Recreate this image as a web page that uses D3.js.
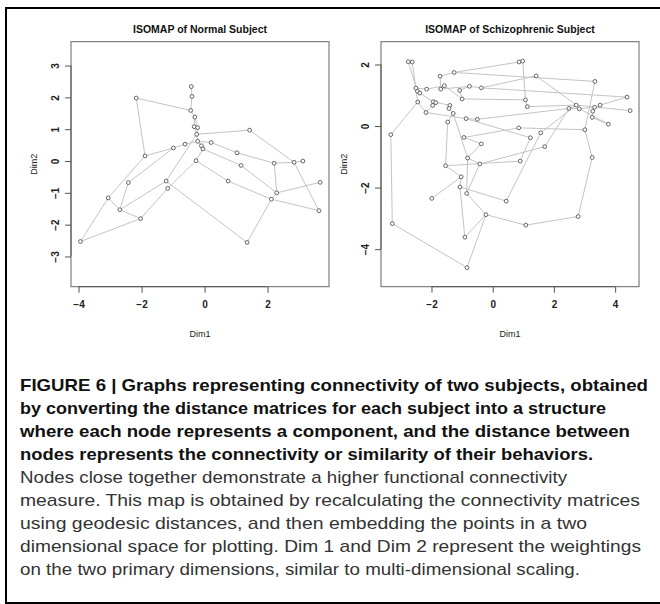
<!DOCTYPE html>
<html>
<head>
<meta charset="utf-8">
<script src="https://cdn.jsdelivr.net/npm/d3@7"></script>
<style>
  body { margin: 0; background: #fff; }
  svg { display: block; }
</style>
</head>
<body>
<div id="chart"></div>
<script>
// node coordinates (Dim1, Dim2)
const normalX = [-2.17,-1.89,-0.99,-0.62,-0.42,-0.40,-0.44,-0.31,-0.33,-0.22,-0.25,1.43,-0.22,0.21,-0.10,-0.05,1.03,-0.27,1.16,2.21,2.84,3.12,0.75,3.67,2.29,2.12,3.63,1.35,-2.42,-1.22,-1.17,-3.06,-2.69,-2.03,-3.94];
const normalY = [1.98,0.16,0.41,0.53,2.34,2.03,1.59,1.38,1.08,1.05,0.84,0.97,0.62,0.58,0.48,0.38,0.26,0.01,-0.14,-0.07,-0.04,0.00,-0.63,-0.67,-1.00,-1.20,-1.56,-2.56,-0.68,-0.63,-0.86,-1.16,-1.53,-1.81,-2.53];
const normalEdges = [[1,2],[1,7],[2,3],[3,4],[4,13],[5,6],[6,7],[7,8],[8,9],[8,10],[9,11],[10,11],[11,12],[11,13],[13,14],[13,15],[15,16],[14,17],[17,20],[12,21],[20,21],[21,22],[20,25],[25,24],[25,26],[26,27],[21,27],[18,23],[23,26],[16,19],[19,25],[16,18],[18,31],[30,28],[28,26],[30,33],[29,33],[29,3],[32,2],[32,33],[32,35],[35,34],[34,31],[33,34],[30,11]];

const schizoX = [-2.76,-2.63,-1.72,-1.26,-2.51,-2.46,-2.38,-2.16,-1.58,-1.70,-0.76,-0.37,-1.08,-1.00,-2.45,-1.94,-1.86,-1.96,-1.40,-1.43,-1.29,-2.18,-1.47,-0.87,-0.50,-3.33,-0.94,-0.37,-0.82,-0.42,-1.54,0.86,0.98,1.42,3.34,1.07,1.13,2.73,2.49,2.83,3.33,3.51,4.39,4.49,3.27,3.25,3.78,3.01,0.85,1.57,1.23,1.70,3.25,0.90,-1.03,-1.07,-0.85,-1.99,-0.22,-3.28,-0.91,-0.84,0.44,2.79,1.08];
const schizoY = [2.09,2.08,1.62,1.74,1.23,1.13,1.07,1.20,1.31,1.20,1.29,1.24,1.16,0.88,0.78,0.79,0.76,0.67,0.67,0.57,0.41,0.44,0.13,0.24,0.22,-0.28,-0.37,-0.58,-1.04,-1.23,-1.29,2.08,2.11,1.63,1.45,0.85,0.63,0.68,0.57,0.56,0.61,0.68,0.94,0.50,0.48,0.28,0.06,-0.12,-0.06,-0.22,-0.38,-0.67,-1.02,-1.14,-1.65,-1.98,-2.19,-2.35,-2.88,-3.17,-3.61,-4.60,-2.44,-2.94,-3.22];
const schizoEdges = [[1,2],[1,6],[2,15],[5,6],[6,7],[5,8],[8,9],[9,10],[3,10],[3,4],[4,32],[4,35],[10,11],[11,12],[12,34],[9,14],[13,14],[13,11],[7,16],[16,17],[17,18],[18,22],[15,22],[16,19],[19,20],[20,21],[21,23],[23,31],[22,24],[24,25],[14,36],[36,37],[37,38],[32,33],[33,36],[34,38],[38,39],[39,40],[40,41],[41,42],[42,43],[38,44],[41,45],[45,46],[46,47],[40,47],[35,48],[48,49],[49,27],[27,28],[28,29],[29,30],[30,52],[52,39],[50,38],[50,63],[51,24],[51,54],[54,31],[15,26],[26,60],[60,62],[62,59],[59,61],[61,56],[56,55],[55,58],[56,63],[59,65],[65,64],[64,53],[53,48],[57,29],[57,59],[31,55],[21,29],[12,43],[30,57],[25,39]];

const normalXTicks = [-4,-2,0,2];
const normalYTicks = [-3,-2,-1,0,1,2,3];
const schizoXTicks = [-2,0,2,4];
const schizoYTicks = [-4,-2,0,2];

const captionBold = [
  "FIGURE 6 | Graphs representing connectivity of two subjects, obtained",
  "by converting the distance matrices for each subject into a structure",
  "where each node represents a component, and the distance between",
  "nodes represents the connectivity or similarity of their behaviors."
];
const captionPlain = [
  "Nodes close together demonstrate a higher functional connectivity",
  "measure. This map is obtained by recalculating the connectivity matrices",
  "using geodesic distances, and then embedding the points in a two",
  "dimensional space for plotting. Dim 1 and Dim 2 represent the weightings",
  "on the two primary dimensions, similar to multi-dimensional scaling."
];
const captionWidths = [628, 586, 610, 573, 547, 620, 567, 621, 560];

const W = 660, H = 604;
const svg = d3.select("#chart").append("svg").attr("width", W).attr("height", H);

// page frame
svg.append("path")
  .attr("d", `M${W+2},8 L6,8 L6,603 L${W+2},603`)
  .attr("fill", "none").attr("stroke", "#000").attr("stroke-width", 2);

function panel(opts) {
  const x = d3.scaleLinear().domain(opts.xDomain).range([opts.left, opts.right]);
  const y = d3.scaleLinear().domain(opts.yDomain).range([opts.bottom, opts.top]);
  const g = svg.append("g");
  const font = "'Liberation Sans', Arial, sans-serif";

  g.append("text")
    .attr("x", (opts.left + opts.right) / 2).attr("y", 33)
    .attr("text-anchor", "middle")
    .attr("font-family", font).attr("font-weight", "bold").attr("font-size", 10.5)
    .attr("fill", "#111")
    .text(opts.title);

  const nodes = opts.xs.map((d, i) => ({x: d, y: opts.ys[i]}));

  g.selectAll(".edge").data(opts.edges).enter().append("line")
    .attr("class", "edge")
    .attr("x1", d => x(nodes[d[0]-1].x)).attr("y1", d => y(nodes[d[0]-1].y))
    .attr("x2", d => x(nodes[d[1]-1].x)).attr("y2", d => y(nodes[d[1]-1].y))
    .attr("stroke", "#c4c4c4").attr("stroke-width", 1);

  g.selectAll(".node").data(nodes).enter().append("circle")
    .attr("class", "node")
    .attr("cx", d => x(d.x)).attr("cy", d => y(d.y)).attr("r", 1.9)
    .attr("fill", "#fff").attr("stroke", "#555").attr("stroke-width", 0.9);

  g.append("rect")
    .attr("x", opts.left).attr("y", opts.top)
    .attr("width", opts.right - opts.left).attr("height", opts.bottom - opts.top)
    .attr("fill", "none").attr("stroke", "#666").attr("stroke-width", 1);

  const xAxis = g.append("g").attr("transform", `translate(0,${opts.bottom})`)
    .call(d3.axisBottom(x).tickValues(opts.xTicks).tickSize(6).tickPadding(8)
      .tickFormat(d => d < 0 ? "\u2212" + Math.abs(d) : d));
  xAxis.select(".domain").attr("d", `M${x(opts.xTicks[0])},0H${x(opts.xTicks[opts.xTicks.length-1])}`);
  xAxis.selectAll("line, path").attr("stroke", "#555");
  xAxis.selectAll("text").attr("font-family", font).attr("font-size", 10)
    .attr("font-weight", "bold").attr("fill", "#222");

  const yAxis = g.append("g").attr("transform", `translate(${opts.left},0)`)
    .call(d3.axisLeft(y).tickValues(opts.yTicks).tickSize(6).tickPadding(8)
      .tickFormat(d => d < 0 ? "\u2212" + Math.abs(d) : d));
  yAxis.select(".domain").attr("d", `M0,${y(opts.yTicks[0])}V${y(opts.yTicks[opts.yTicks.length-1])}`);
  yAxis.selectAll("line, path").attr("stroke", "#555");
  yAxis.selectAll("text")
    .attr("font-family", font).attr("font-size", 10).attr("font-weight", "bold").attr("fill", "#222")
    .attr("text-anchor", "middle").attr("dy", "0")
    .attr("transform", "translate(-16,0) rotate(-90)")
    .attr("x", 0).attr("y", 3.5);

  g.append("text")
    .attr("x", (opts.left + opts.right) / 2).attr("y", 337)
    .attr("text-anchor", "middle")
    .attr("font-family", font).attr("font-size", 9).attr("fill", "#222")
    .text("Dim1");

  g.append("text")
    .attr("transform", `translate(${opts.left - 34},${(opts.top + opts.bottom) / 2}) rotate(-90)`)
    .attr("text-anchor", "middle")
    .attr("font-family", font).attr("font-size", 9).attr("fill", "#222")
    .text("Dim2");
}

panel({
  title: "ISOMAP of Normal Subject",
  xs: normalX, ys: normalY, edges: normalEdges,
  xDomain: [-4.24, 3.95], yDomain: [-3.95, 3.75],
  left: 71, right: 329, top: 41.7, bottom: 286.7,
  xTicks: normalXTicks, yTicks: normalYTicks
});

panel({
  title: "ISOMAP of Schizophrenic Subject",
  xs: schizoX, ys: schizoY, edges: schizoEdges,
  xDomain: [-3.65, 4.78], yDomain: [-5.22, 2.74],
  left: 381, right: 639, top: 41.7, bottom: 286.7,
  xTicks: schizoXTicks, yTicks: schizoYTicks
});

// caption
const capFont = "'Liberation Sans Narrow', 'Liberation Sans', Arial, sans-serif";
const lines = captionBold.map(t => ({t, bold: true})).concat(captionPlain.map(t => ({t, bold: false})));
svg.selectAll(".cap").data(lines).enter().append("text")
  .attr("class", "cap")
  .attr("x", 20)
  .attr("y", (d, i) => 391 + i * 23)
  .attr("font-family", capFont)
  .attr("font-size", 17)
  .attr("font-weight", d => d.bold ? "bold" : "normal")
  .attr("fill", d => d.bold ? "#111" : "#333")
  .attr("textLength", (d, i) => captionWidths[i])
  .attr("lengthAdjust", "spacingAndGlyphs")
  .text(d => d.t);
</script>
</body>
</html>
